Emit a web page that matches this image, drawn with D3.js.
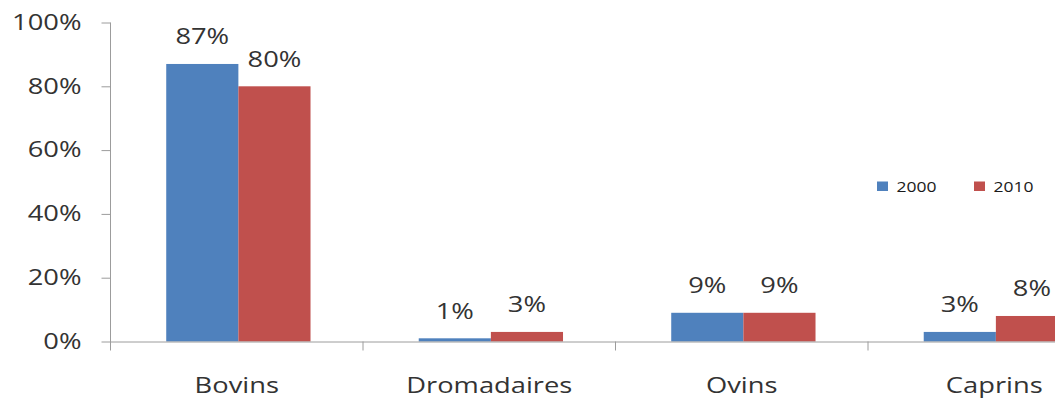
<!DOCTYPE html>
<html>
<head>
<meta charset="utf-8">
<script src="https://cdn.jsdelivr.net/npm/d3@7"></script>
<style>
  html, body { margin: 0; padding: 0; background: #fff; overflow: hidden; }
  svg { display: block; font-family: "Open Sans", sans-serif; }
</style>
</head>
<body>
<svg id="chart" width="1055" height="399"></svg>
<script>
const categories = ["Bovins", "Dromadaires", "Ovins", "Caprins"];
const seriesNames = ["2000", "2010"];
const values2000 = [0.87, 0.01, 0.09, 0.03];
const values2010 = [0.80, 0.03, 0.09, 0.08];
const valueLabels2000 = ["87%", "1%", "9%", "3%"];
const valueLabels2010 = ["80%", "3%", "9%", "8%"];
const yTickValues = [0, 0.2, 0.4, 0.6, 0.8, 1.0];

const colors = { "2000": "#4F81BD", "2010": "#C0504D" };
const axisColor = "#9c9c9c";
const textColor = "#333333";
const FONT = "Open Sans, sans-serif";
const FS = 21;
const SX = 1.3;

const svg = d3.select("#chart");
const x0 = 110.5, x1End = 1120.5, yTop = 22.5, yBase = 341.5;

const x = d3.scaleBand().domain(categories).range([x0, x1End]).paddingInner(0).paddingOuter(0);
const xs = d3.scaleBand().domain(seriesNames).range([0, x.bandwidth()]).paddingInner(0).paddingOuter(0.75).align(0.515);
const y = d3.scaleLinear().domain([0, 1]).range([yBase, yTop]);

const data = categories.map((c, i) => ({
  cat: c,
  vals: [
    { s: "2000", v: values2000[i], label: valueLabels2000[i] },
    { s: "2010", v: values2010[i], label: valueLabels2010[i] }
  ]
}));

// Bars
const groups = svg.append("g").selectAll("g").data(data).join("g")
  .attr("transform", d => `translate(${x(d.cat)},0)`);
groups.selectAll("rect").data(d => d.vals).join("rect")
  .attr("x", d => xs(d.s))
  .attr("y", d => y(d.v))
  .attr("width", xs.bandwidth())
  .attr("height", d => yBase - y(d.v))
  .attr("fill", d => colors[d.s]);

// Value labels
groups.selectAll("text").data(d => d.vals).join("text")
  .attr("transform", d => `translate(${xs(d.s) + xs.bandwidth() / 2},${y(d.v) - 19.5}) scale(${SX},1)`)
  .attr("text-anchor", "middle")
  .attr("font-size", FS)
  .attr("font-family", FONT)
  .attr("fill", textColor)
  .text(d => d.label);

// Y axis
const yAxis = svg.append("g").attr("transform", `translate(${x0},0)`)
  .call(d3.axisLeft(y).tickValues(yTickValues).tickFormat(d3.format(".0%")).tickSizeInner(9).tickSizeOuter(0).tickPadding(20));
yAxis.select(".domain").attr("stroke", axisColor).attr("d", `M0,${yTop}V${yBase + 9}`);
yAxis.selectAll(".tick line").attr("stroke", axisColor);
yAxis.selectAll(".tick text").each(function() {
  const t = d3.select(this);
  const tx = +t.attr("x");
  t.attr("x", 0).attr("transform", `translate(${tx},0) scale(${SX},1)`);
}).attr("font-size", FS).attr("font-family", FONT).attr("fill", textColor);

// X axis (labels at band centres)
const xAxis = svg.append("g").attr("transform", `translate(0,${yBase})`)
  .call(d3.axisBottom(x).tickSizeInner(0).tickSizeOuter(0).tickPadding(36.5));
xAxis.select(".domain").attr("stroke", axisColor);
xAxis.selectAll(".tick text").each(function() {
  const t = d3.select(this);
  const ty = +t.attr("y");
  t.attr("y", 0).attr("transform", `translate(0,${ty}) scale(${SX},1)`);
}).attr("font-size", FS).attr("font-family", FONT).attr("fill", textColor);

// Category boundary ticks
svg.append("g").selectAll("line").data(categories.slice(1).concat(["__end"]))
  .join("line")
  .attr("x1", d => d === "__end" ? x1End : x(d))
  .attr("x2", d => d === "__end" ? x1End : x(d))
  .attr("y1", yBase).attr("y2", yBase + 9)
  .attr("stroke", axisColor);

// Legend
const legendX = [877, 974];
const legend = svg.append("g").selectAll("g").data(seriesNames).join("g")
  .attr("transform", (d, i) => `translate(${legendX[i]},181.5)`);
legend.append("rect").attr("width", 11).attr("height", 9.5).attr("fill", d => colors[d]);
legend.append("text")
  .attr("transform", `translate(19.5,10.5) scale(1.25,1)`)
  .attr("font-size", 14)
  .attr("font-family", FONT)
  .attr("fill", "#1a1a1a")
  .text(d => d);
</script>
</body>
</html>
